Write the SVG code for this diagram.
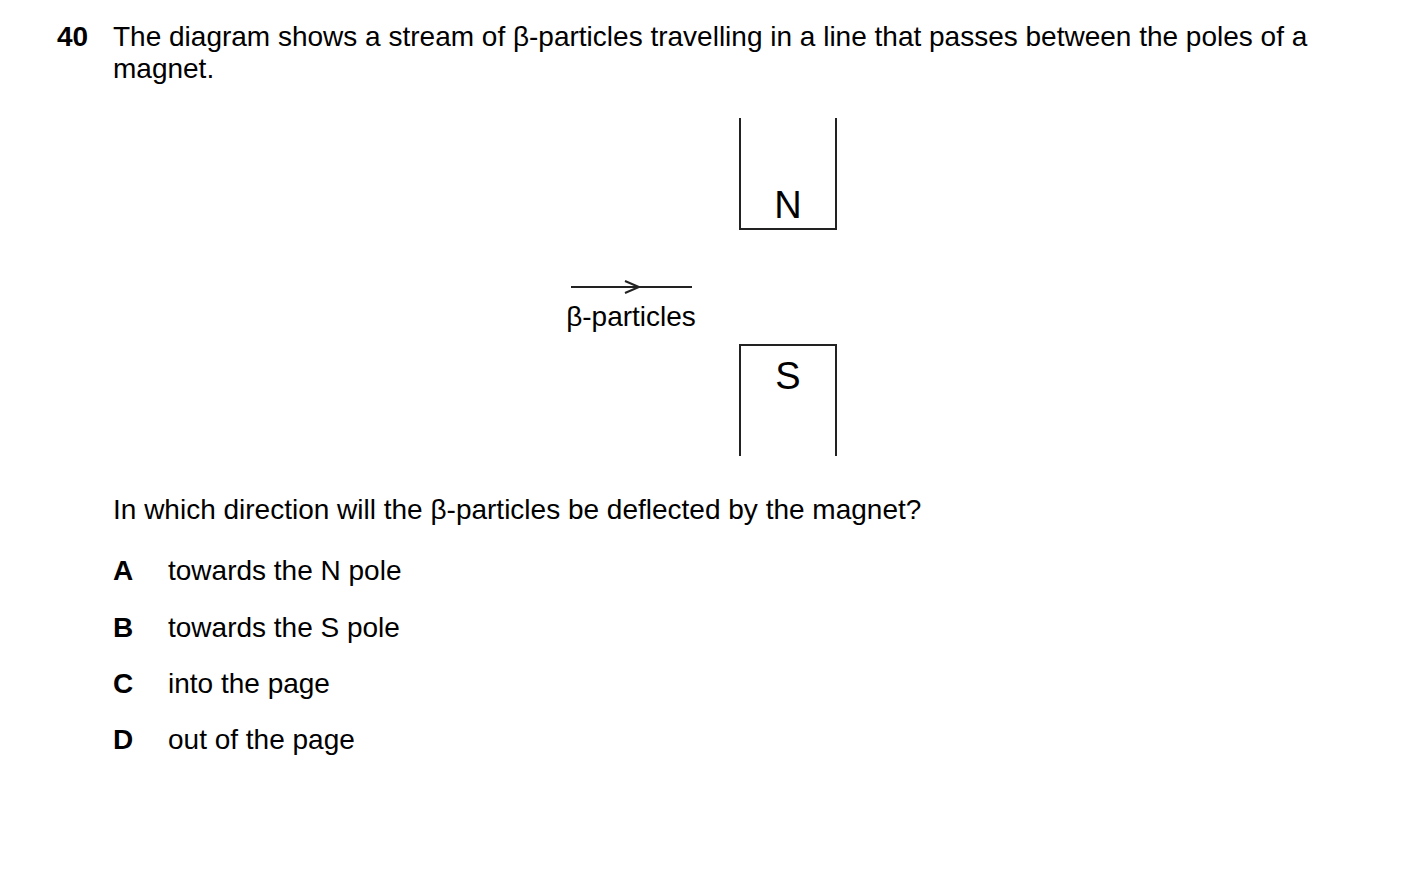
<svg xmlns="http://www.w3.org/2000/svg" width="1403" height="878" viewBox="0 0 1403 878">
<style>
text{font-family:"Liberation Sans",Arial,sans-serif;font-size:28px;fill:#000}
.b{font-weight:bold}
.l{fill:none;stroke:#222;stroke-width:2}
</style>
<rect width="1403" height="878" fill="#fff"/>
<text x="57" y="46" class="b">40</text>
<text x="113" y="46">The diagram shows a stream of β-particles travelling in a line that passes between the poles of a</text>
<text x="113" y="78">magnet.</text>
<g id="north"><path class="l" d="M740 118V229H836V118"/><text x="788" y="218" text-anchor="middle" font-size="38" style="font-size:38px">N</text></g>
<g id="south"><path class="l" d="M740 456V345H836V456"/><text x="788" y="389" text-anchor="middle" style="font-size:38px">S</text></g>
<g id="connectors"><path class="l" d="M571 287H692M625 281L639 287L625 293"/></g>
<text x="631" y="326" text-anchor="middle">β-particles</text>
<text x="113" y="519">In which direction will the β-particles be deflected by the magnet?</text>
<text x="113" y="580" class="b">A</text><text x="168" y="580">towards the N pole</text>
<text x="113" y="637" class="b">B</text><text x="168" y="637">towards the S pole</text>
<text x="113" y="693" class="b">C</text><text x="168" y="693">into the page</text>
<text x="113" y="749" class="b">D</text><text x="168" y="749">out of the page</text>
</svg>
